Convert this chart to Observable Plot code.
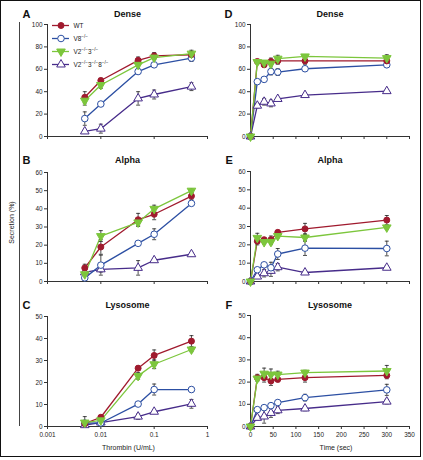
<!DOCTYPE html>
<html>
<head>
<meta charset="utf-8">
<script src="https://cdn.jsdelivr.net/npm/d3@7"></script>
<script src="https://cdn.jsdelivr.net/npm/@observablehq/plot@0.6"></script>
<style>
  html, body { margin: 0; padding: 0; background: #fff; }
  #wrap { position: relative; width: 423px; height: 460px; overflow: hidden; font-family: "Liberation Sans", Arial, sans-serif; }
  #wrap svg { position: absolute; left: 0; top: 0; background: transparent !important; }
  #frame { position: absolute; left: 0; top: 0; width: 419px; height: 455px; border: 1.5px solid #111; }
  #bracket { position: absolute; left: 19px; top: 22px; width: 0; height: 404px; border-left: 1px solid #444; }
</style>
</head>
<body>
<div id="wrap"><div id="frame"></div><div id="bracket"></div></div>
<script>
// ---------- data ----------
const seriesNames = ["WT", "V8-/-", "V2-/-3-/-", "V2-/-3-/-8-/-"];
const thrombin = [0.005, 0.01, 0.05, 0.1, 0.5];
const time = [0, 15, 30, 45, 60, 120, 300];
const thrombinTicks = [0.001, 0.01, 0.1, 1];
const timeTicks = [0, 50, 100, 150, 200, 250, 300, 350];

// A: Dense, dose
const denseDoseWT   = [35, 50, 68, 72, 73];
const denseDoseV8   = [16, 29, 58, 64, 70];
const denseDoseV23  = [32, 46, 64, 70.5, 74];
const denseDoseV238 = [4.5, 7, 34, 37.5, 44.5];
const denseDoseWTErr   = [5, 2, 3, 3, 3];
const denseDoseV8Err   = [6, 2, 2, 2, 3];
const denseDoseV23Err  = [4, 3, 3, 2, 3];
const denseDoseV238Err = [1, 4, 6, 4, 3.5];

// B: Alpha, dose
const alphaDoseWT   = [7.5, 19, 34, 37, 47];
const alphaDoseV8   = [2, 9, 21, 26, 43];
const alphaDoseV23  = [4, 25, 32.5, 40, 50];
const alphaDoseV238 = [5, 6.7, 7.5, 11.7, 15];
const alphaDoseWTErr   = [2, 4, 3.5, 3, 2];
const alphaDoseV8Err   = [1, 5.5, 1, 3, 1];
const alphaDoseV23Err  = [1, 3, 2, 2, 1];
const alphaDoseV238Err = [1, 1.5, 4, 1, 1];

// C: Lysosome, dose
const lysoDoseWT   = [1.3, 4.2, 26.5, 32.3, 38.8];
const lysoDoseV8   = [1.5, 1.6, 10.2, 16.8, 16.8];
const lysoDoseV23  = [1.8, 2.8, 23, 28.3, 35];
const lysoDoseV238 = [0.6, 1.8, 4.5, 6.7, 10.3];
const lysoDoseWTErr   = [1, 0.5, 1, 2.5, 2.5];
const lysoDoseV8Err   = [3, 1, 1, 2.5, 1];
const lysoDoseV23Err  = [1, 1, 1.5, 2, 1];
const lysoDoseV238Err = [0.5, 0.5, 1.2, 0.5, 2];

// D: Dense, time
const denseTimeWT   = [0, 67, 64, 67, 67.5, 67.5, 67.5];
const denseTimeV8   = [0, 49, 51, 58, 57.5, 60.5, 64];
const denseTimeV23  = [0, 66.5, 66, 65, 69.5, 71.5, 70];
const denseTimeV238 = [0, 27.5, 31, 29.5, 33.5, 37, 40.5];
const denseTimeWTErr   = [0, 1, 2, 3, 3, 3, 2];
const denseTimeV8Err   = [0, 1, 2, 3, 3, 2, 2];
const denseTimeV23Err  = [0, 1, 1, 2, 3, 1, 3];
const denseTimeV238Err = [0, 2, 3, 3, 1, 1, 1];

// E: Alpha, time
const alphaTimeWT   = [0, 22, 22.8, 22.8, 26.8, 28.7, 33.5];
const alphaTimeV8   = [0, 6.4, 9.1, 7.5, 15, 18.2, 18];
const alphaTimeV23  = [0, 23.8, 21.5, 21.6, 24.8, 24, 29.5];
const alphaTimeV238 = [0, 2.7, 4.5, 5.8, 7.8, 4.9, 7.5];
const alphaTimeWTErr   = [0, 2, 1, 2, 1, 3, 2.5];
const alphaTimeV8Err   = [0, 1, 1, 3, 3, 4, 4];
const alphaTimeV23Err  = [0, 2.5, 1, 1.5, 1, 2, 1];
const alphaTimeV238Err = [0, 1, 2, 3, 2, 1, 1];

// F: Lysosome, time
const lysoTimeWT   = [0, 22, 22, 20.5, 21.2, 22, 23];
const lysoTimeV8   = [0, 7.6, 8.5, 9.4, 10.8, 13, 16.5];
const lysoTimeV23  = [0, 21.6, 23.8, 23.4, 23.4, 24.3, 25];
const lysoTimeV238 = [0, 3.9, 4.5, 6.1, 7.3, 8.1, 11.2];
const lysoTimeWTErr   = [0, 1.5, 2, 2, 1, 2, 1.5];
const lysoTimeV8Err   = [0, 1, 1, 1, 1, 1.5, 2.5];
const lysoTimeV23Err  = [0, 1, 2.5, 2.5, 1.5, 1, 2.5];
const lysoTimeV238Err = [0, 1, 3, 2, 1.5, 1, 1];

// ---------- styles ----------
const colors = ["#a01a2e", "#2c4fa3", "#7cc63c", "#472c8a"];
const fills = ["#a01a2e", "#ffffff", "#7cc63c", "#ffffff"];
const symbols = ["circle", "circle", "triangle", "triangle"];
const rotations = [0, 0, 180, 0];
const radii = [3, 3.3, 3.2, 3.2];
const drawOrder = [3, 1, 0, 2];
const W = 423, H = 460;
const FONT = "'Liberation Sans', Arial, sans-serif";
const capSymbol = { draw(ctx) { ctx.moveTo(-2, 0); ctx.lineTo(2, 0); } };

const panels = [
  { id: "A", title: "Dense", col: 0, top: 24, bottom: 136, ymax: 100, ystep: 20, titleY: 14, letterX: 22,
    values: [denseDoseWT, denseDoseV8, denseDoseV23, denseDoseV238],
    errors: [denseDoseWTErr, denseDoseV8Err, denseDoseV23Err, denseDoseV238Err] },
  { id: "B", title: "Alpha", col: 0, top: 172, bottom: 281, ymax: 60, ystep: 10, titleY: 160, letterX: 22, ylabel: true,
    values: [alphaDoseWT, alphaDoseV8, alphaDoseV23, alphaDoseV238],
    errors: [alphaDoseWTErr, alphaDoseV8Err, alphaDoseV23Err, alphaDoseV238Err] },
  { id: "C", title: "Lysosome", col: 0, top: 316, bottom: 426, ymax: 50, ystep: 10, titleY: 305, letterX: 22, showX: true,
    xlabel: "Thrombin (U/mL)", xlabelDx: 1,
    values: [lysoDoseWT, lysoDoseV8, lysoDoseV23, lysoDoseV238],
    errors: [lysoDoseWTErr, lysoDoseV8Err, lysoDoseV23Err, lysoDoseV238Err] },
  { id: "D", title: "Dense", col: 1, top: 24, bottom: 136, ymax: 100, ystep: 20, titleY: 14, letterX: 224,
    values: [denseTimeWT, denseTimeV8, denseTimeV23, denseTimeV238],
    errors: [denseTimeWTErr, denseTimeV8Err, denseTimeV23Err, denseTimeV238Err] },
  { id: "E", title: "Alpha", col: 1, top: 171, bottom: 281, ymax: 60, ystep: 10, titleY: 160, letterX: 225,
    values: [alphaTimeWT, alphaTimeV8, alphaTimeV23, alphaTimeV238],
    errors: [alphaTimeWTErr, alphaTimeV8Err, alphaTimeV23Err, alphaTimeV238Err] },
  { id: "F", title: "Lysosome", col: 1, top: 315, bottom: 426, ymax: 50, ystep: 10, titleY: 305, letterX: 225, showX: true,
    xlabel: "Time (sec)", xlabelDx: 6,
    values: [lysoTimeWT, lysoTimeV8, lysoTimeV23, lysoTimeV238],
    errors: [lysoTimeWTErr, lysoTimeV8Err, lysoTimeV23Err, lysoTimeV238Err] }
];

function makePanel(p) {
  const isLog = p.col === 0;
  const xs = isLog ? thrombin : time;
  const left = isLog ? 47 : 250, right = isLog ? 207 : 409;
  const rows = [];
  for (const s of drawOrder) xs.forEach((x, j) => rows.push({ s, series: seriesNames[s], x, y: p.values[s][j], err: p.errors[s][j] }));
  const errRows = rows.filter(d => d.err > 0);
  const marks = [
    Plot.axisY({ ticks: d3.range(0, p.ymax + 1, p.ystep), tickSize: 3, tickPadding: 2, label: null, fontSize: 6.4, tickFormat: d => String(d), stroke: "#333", fill: "#222" }),
    Plot.axisX({ ticks: isLog ? thrombinTicks : timeTicks, tickSize: 3, tickPadding: 3, label: null, fontSize: 6.4, stroke: "#333", fill: "#222",
      tickFormat: p.showX ? (d => String(d)) : (() => "") }),
    Plot.ruleX([isLog ? 0.001 : 0], { stroke: "#333", strokeWidth: 1 }),
    Plot.ruleY([0], { stroke: "#333", strokeWidth: 1 })
  ];
  for (const s of drawOrder) {
    marks.push(Plot.line(rows.filter(d => d.s === s), { x: "x", y: "y", stroke: colors[s], strokeWidth: 1.3 }));
  }
  marks.push(Plot.ruleX(errRows, { x: "x", y1: d => Math.max(0, d.y - d.err), y2: d => d.y + d.err, stroke: "#222", strokeWidth: 0.8 }));
  marks.push(Plot.dot(errRows, { x: "x", y: d => d.y + d.err, symbol: capSymbol, stroke: "#222", strokeWidth: 0.8, fill: "none", r: 2 }));
  marks.push(Plot.dot(errRows, { x: "x", y: d => Math.max(0, d.y - d.err), symbol: capSymbol, stroke: "#222", strokeWidth: 0.8, fill: "none", r: 2 }));
  for (const s of drawOrder) {
    marks.push(Plot.dot(rows.filter(d => d.s === s), { x: "x", y: "y", symbol: symbols[s], r: radii[s], fill: fills[s], stroke: colors[s], strokeWidth: 1, rotate: rotations[s] }));
  }
  marks.push(Plot.text([p.title], { frameAnchor: "top", dy: p.titleY - p.top, lineAnchor: "middle", fontWeight: "bold", fontSize: 9, fill: "#111" }));
  marks.push(Plot.text([p.id], { frameAnchor: "top-left", dx: p.letterX - left, dy: p.titleY - p.top, textAnchor: "start", lineAnchor: "middle", fontWeight: "bold", fontSize: 11, fill: "#111" }));
  if (p.xlabel) marks.push(Plot.text([p.xlabel], { frameAnchor: "bottom", dx: p.xlabelDx, dy: 21, lineAnchor: "middle", fontSize: 7, fill: "#222" }));
  if (p.ylabel) marks.push(Plot.text(["Secretion (%)"], { frameAnchor: "left", dx: 11 - left, dy: 222 - (p.top + p.bottom) / 2, rotate: -90, lineAnchor: "middle", textAnchor: "middle", fontSize: 7, fill: "#222" }));

  return Plot.plot({
    width: W, height: H,
    marginLeft: left, marginRight: W - right, marginTop: p.top, marginBottom: H - p.bottom,
    x: isLog ? { type: "log", domain: [0.001, 1], label: null } : { type: "linear", domain: [0, 350], label: null },
    y: { domain: [0, p.ymax], label: null },
    style: { background: "transparent", fontFamily: FONT, overflow: "visible" },
    marks
  });
}

function makeLegend() {
  const rows = seriesNames.map((name, i) => ({ i, name }));
  const marks = [];
  rows.forEach(d => {
    marks.push(Plot.ruleY([d], { y: "name", stroke: colors[d.i], strokeWidth: 1.3 }));
    marks.push(Plot.dot([d], { x: () => 0.5, y: "name", symbol: symbols[d.i], r: radii[d.i], fill: fills[d.i], stroke: colors[d.i], strokeWidth: 1, rotate: rotations[d.i] }));
  });
  marks.push(Plot.text(rows, { x: () => 1, y: "name", text: "name", dx: 4, textAnchor: "start", fontSize: 6.4, fill: "#222" }));
  return Plot.plot({
    width: W, height: H,
    marginLeft: 52, marginRight: W - 69, marginTop: 24, marginBottom: H - 65,
    x: { domain: [0, 1], axis: null },
    y: { type: "point", domain: seriesNames, padding: 0, axis: null },
    style: { background: "transparent", fontFamily: FONT, overflow: "visible" },
    marks
  });
}

function supify(svg) {
  const ns = "http://www.w3.org/2000/svg";
  svg.querySelectorAll("text").forEach(t => {
    const s = t.textContent;
    if (!s.includes("-/-")) return;
    while (t.firstChild) t.removeChild(t.firstChild);
    let raised = false;
    s.split(/(-\/-)/).forEach(part => {
      if (!part) return;
      const ts = document.createElementNS(ns, "tspan");
      if (part === "-/-") {
        ts.textContent = "−/−";
        ts.setAttribute("font-size", "4.6");
        if (!raised) ts.setAttribute("dy", "-2.4");
        raised = true;
      } else {
        ts.textContent = part;
        if (raised) ts.setAttribute("dy", "2.4");
        raised = false;
      }
      t.appendChild(ts);
    });
  });
}

const wrap = document.getElementById("wrap");
panels.forEach(p => wrap.appendChild(makePanel(p)));
const legend = makeLegend();
supify(legend);
wrap.appendChild(legend);
</script>
</body>
</html>
